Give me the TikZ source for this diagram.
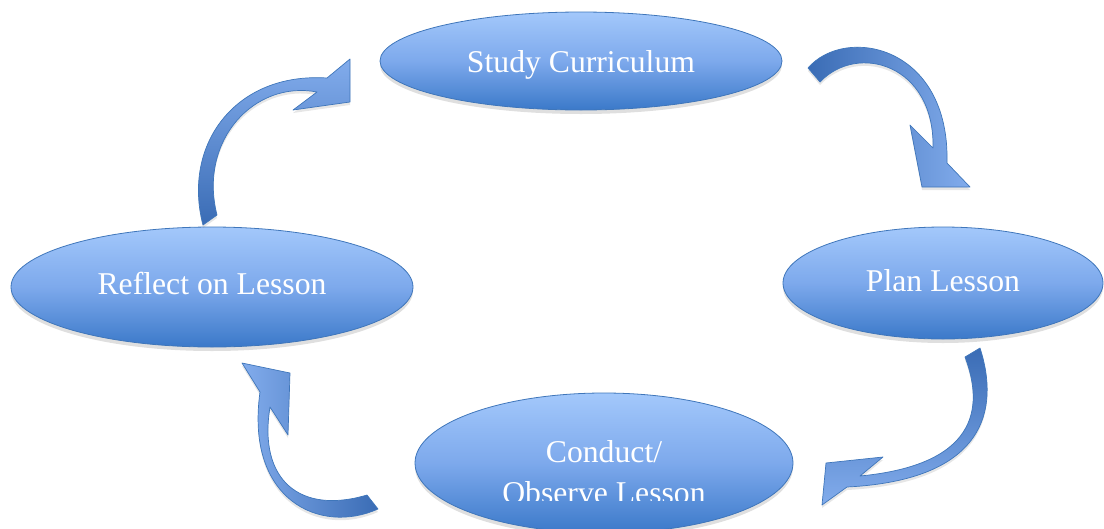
\documentclass[tikz,border=0pt]{standalone}
\usepackage{fontspec}
\setmainfont{Liberation Serif}
\usetikzlibrary{shapes.geometric,shadows}
\definecolor{cTop}{HTML}{A3C8FB}
\definecolor{cMid}{HTML}{7DA9EC}
\definecolor{cBot}{HTML}{3B79C9}
\definecolor{cEdge}{HTML}{3F76BA}
\definecolor{cArrDark}{HTML}{3A6CB5}
\definecolor{cArrLight}{HTML}{82ACEC}

\begin{document}
\begin{tikzpicture}[
  x=1pt, y=-1pt,
  phaselabel/.style={text=white, font=\fontsize{31.7}{41}\selectfont, inner sep=0pt},
  phase/.style={ellipse, phaselabel, draw=cEdge, line width=0.8pt,
                top color=cTop, bottom color=cBot, middle color=cMid,
                text height=22pt, text depth=0pt,
                drop shadow={shadow xshift=0pt, shadow yshift=-4pt, opacity=0.25}},
  bent/.style={draw=cEdge, line width=0.7pt, line join=round,
               drop shadow={shadow xshift=0pt, shadow yshift=-3pt, opacity=0.2}},
]
\useasboundingbox (0,0) rectangle (1104,528);

% ---------- Phases ----------
\node[phase, minimum width=402pt, minimum height=98pt] (study) at (581,61) {Study Curriculum};
\node[phase, minimum width=320pt, minimum height=112pt, text depth=5pt] (plan) at (943,283) {Plan Lesson};
\node[phase, minimum width=402pt, minimum height=120pt, text depth=8pt] (reflect) at (212,287) {Reflect on Lesson};
\node[phase, minimum width=378pt, minimum height=140pt] (conduct) at (604,463) {};
\begin{scope}
  \clip (400,380) rectangle (800,500);
  \node[phaselabel, align=center] (conductText) at (604,472.5) {Conduct/\\Observe Lesson};
\end{scope}

% ---------- Curved arrows ----------
% study -> plan
\path[bent, left color=cArrDark, right color=cArrLight]
  (808,68) .. controls (845,25) and (950,45) .. (947,163) -- (970,187) -- (922,187)
  -- (910,125) -- (933,148) .. controls (935,65) and (858,42) .. (820,82) -- cycle;
% plan -> conduct
\path[bent, top color=cArrDark, bottom color=cArrLight]
  (980,348) .. controls (1000,410) and (985,480) .. (847,487) -- (822,505) -- (826,463)
  -- (883,457) -- (860,476) .. controls (975,465) and (985,410) .. (965,357) -- cycle;
% conduct -> reflect
\path[bent, right color=cArrDark, left color=cArrLight]
  (378,509) .. controls (320,535) and (245,500) .. (260,392) -- (242,363) -- (290,373)
  -- (288,435) -- (270,407) .. controls (258,480) and (300,515) .. (367,495) -- cycle;
% reflect -> study
\path[bent, bottom color=cArrDark, top color=cArrLight]
  (203,225) .. controls (182,145) and (235,72) .. (327,78) -- (350,59) -- (350,102)
  -- (293,110) -- (317,92) .. controls (255,80) and (198,140) .. (217,215) -- cycle;

\end{tikzpicture}
\end{document}
